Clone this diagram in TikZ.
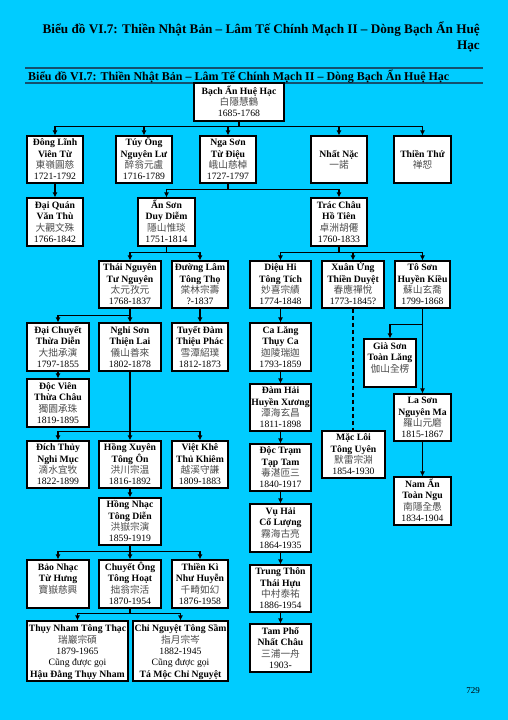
\documentclass[tikz,border=0pt]{standalone}
\usepackage{fontspec}
\setmainfont{Liberation Serif}
\newfontfamily\cjk{Noto Sans CJK TC}
\usetikzlibrary{arrows.meta}
\definecolor{bgc}{RGB}{0,204,255}
\definecolor{rulec}{RGB}{20,80,110}
\newcommand\tp{\rule{0pt}{9.6pt}}
\newcommand\bt{\rule[-2.8pt]{0pt}{2.8pt}}
\newcommand\bx[7][]{\node[box,#1,minimum width={#5-#3},minimum height={#6-#4}] (#2) at ({(#3+#5)/2},{(#4+#6)/2}) {#7};}
\newcommand\cj[1]{{\cjk\color{black!70}#1}}
\newcommand\nm[4]{\tp\textbf{#1}\\\textbf{#2}\\\cj{#3}\\#4\bt}
\begin{document}
\begin{tikzpicture}[x=1pt,y=-1pt,
  box/.style={draw=black, line width=1.1pt, fill=white, inner sep=0pt, align=center, font=\fontsize{9.7}{11.3}\selectfont},
  arr/.style={line width=1.3pt, -{Latex[length=5pt,width=5pt]}},
  dashline/.style={line width=1.1pt, dash pattern=on 4pt off 3pt},
  rule/.style={rulec, line width=1.5pt}
]
\fill[bgc] (0,0) rectangle (508,720);
\useasboundingbox (0,0) rectangle (508,720);

\node[anchor=base east, inner sep=0, font=\bfseries\fontsize{13.2}{16}\selectfont] (title1) at (480,33) {Biểu đồ VI.7: Thiền Nhật Bản – Lâm Tế Chính Mạch II – Dòng Bạch Ẩn Huệ};
\node[anchor=base east, inner sep=0, font=\bfseries\fontsize{13.2}{16}\selectfont] (title2) at (480,49) {Hạc};
\draw[rule] (25,68) -- (483,68);
\draw[rule] (25,83) -- (483,83);
\node[anchor=base west, inner sep=0, font=\bfseries\fontsize{12}{13}\selectfont] (subtitle) at (28,80) {Biểu đồ VI.7: Thiền Nhật Bản – Lâm Tế Chính Mạch II – Dòng Bạch Ẩn Huệ Hạc};

% root
\bx{root}{194}{83}{284}{121}{\tp\textbf{Bạch Ẩn Huệ Hạc}\\\cj{白隱慧鶴}\\1685-1768\bt}
% row 1
\bx{dongl}{27}{136}{83}{183}{\nm{Đông Lĩnh}{Viên Từ}{東嶺圓慈}{1721-1792}}
\bx{tuyong}{116}{136}{172}{183}{\nm{Túy Ông}{Nguyên Lư}{醉翁元盧}{1716-1789}}
\bx{ngason}{200}{136}{256}{183}{\nm{Nga Sơn}{Từ Điệu}{峨山慈棹}{1727-1797}}
\bx{nhatnac}{311}{136}{367}{183}{\tp\textbf{Nhất Nặc}\\\cj{一諾}\bt}
\bx{thientu}{394}{136}{451}{183}{\tp\textbf{Thiền Thứ}\\\cj{禅恕}\bt}
% row 2
\bx{daiquan}{27}{198}{83}{246}{\nm{Đại Quán}{Văn Thù}{大觀文殊}{1766-1842}}
\bx{anson}{138}{198}{195}{246}{\nm{Ẩn Sơn}{Duy Diễm}{隱山惟琰}{1751-1814}}
\bx{tracchau}{311}{198}{367}{246}{\nm{Trác Châu}{Hồ Tiên}{卓洲胡僊}{1760-1833}}
% row 3
\bx{thainguyen}{99}{261}{161}{308}{\nm{Thái Nguyên}{Tư Nguyên}{太元孜元}{1768-1837}}
\bx{duonglam}{172}{261}{228}{308}{\nm{Đường Lâm}{Tông Thọ}{棠林宗壽}{?-1837}}
\bx{dieuhi}{250}{261}{311}{308}{\nm{Diệu Hi}{Tông Tích}{妙喜宗績}{1774-1848}}
\bx{xuanung}{322}{261}{384}{308}{\nm{Xuân Ứng}{Thiền Duyệt}{春應禪悅}{1773-1845?}}
\bx{toson}{395}{261}{450}{308}{\nm{Tô Sơn}{Huyền Kiều}{蘇山玄喬}{1799-1868}}
% row 4
\bx{daichuyet}{27}{323}{89}{371}{\nm{Đại Chuyết}{Thừa Diễn}{大拙承演}{1797-1855}}
\bx{nghison}{99}{323}{161}{371}{\nm{Nghi Sơn}{Thiện Lai}{儀山善來}{1802-1878}}
\bx{tuyetdam}{172}{323}{228}{371}{\nm{Tuyết Đàm}{Thiệu Phác}{雪潭紹璞}{1812-1873}}
\bx{calang}{250}{323}{311}{371}{\nm{Ca Lăng}{Thụy Ca}{迦陵瑞迦}{1793-1859}}
\bx{giason}{364}{339}{416}{387}{\nm{Già Sơn}{Toàn Lăng}{伽山全楞}{}}
% further
\bx{docvien}{27}{379}{89}{427}{\nm{Độc Viên}{Thừa Châu}{獨園承珠}{1819-1895}}
\bx{damhai}{250}{384}{311}{431}{\nm{Đàm Hải}{Huyền Xương}{潭海玄昌}{1811-1898}}
\bx{lason}{394}{394}{451}{441}{\nm{La Sơn}{Nguyên Ma}{羅山元磨}{1815-1867}}
\bx[line width=2.2pt]{macloi}{322}{431}{385}{478}{\nm{Mặc Lôi}{Tông Uyên}{默雷宗淵}{1854-1930}}
\bx{dichthuy}{27}{441}{89}{488}{\nm{Đích Thủy}{Nghi Mục}{滴水宜牧}{1822-1899}}
\bx{hongxuyen}{99}{441}{161}{488}{\nm{Hồng Xuyên}{Tông Ôn}{洪川宗温}{1816-1892}}
\bx{vietkhe}{172}{441}{228}{488}{\nm{Việt Khê}{Thủ Khiêm}{越溪守謙}{1809-1883}}
\bx{doctram}{250}{444}{311}{491}{\nm{Độc Trạm}{Tạp Tam}{毒湛匝三}{1840-1917}}
\bx{naman}{394}{477}{451}{525}{\nm{Nam Ẩn}{Toàn Ngu}{南隱全愚}{1834-1904}}
\bx{hongnhac}{99}{498}{161}{545}{\nm{Hồng Nhạc}{Tông Diễn}{洪嶽宗演}{1859-1919}}
\bx{vuhai}{250}{504}{311}{552}{\nm{Vụ Hải}{Cổ Lượng}{霧海古亮}{1864-1935}}
\bx{baonhac}{27}{560}{89}{608}{\nm{Bảo Nhạc}{Từ Hưng}{寶嶽慈興}{}}
\bx{chuyetong}{99}{560}{161}{608}{\nm{Chuyết Ông}{Tông Hoạt}{拙翁宗活}{1870-1954}}
\bx{thienki}{172}{560}{228}{608}{\nm{Thiền Kì}{Như Huyễn}{千畸如幻}{1876-1958}}
\bx{trungthon}{250}{565}{311}{612}{\nm{Trung Thôn}{Thái Hựu}{中村泰祐}{1886-1954}}
\bx{thuynham}{27}{621}{128}{681}{\tp\textbf{Thụy Nham Tông Thạc}\\\cj{瑞巖宗碩}\\1879-1965\\Cũng được gọi\\\textbf{Hậu Đằng Thụy Nham}\bt}
\bx{chinguyet}{133}{621}{228}{681}{\tp\textbf{Chỉ Nguyệt Tông Sầm}\\\cj{指月宗岑}\\1882-1945\\Cũng được gọi\\\textbf{Tá Mộc Chỉ Nguyệt}\bt}
\bx{tampho}{250}{624}{311}{672}{\nm{Tam Phố}{Nhất Châu}{三浦一舟}{1903-}}

\node[font=\fontsize{9}{10}\selectfont, inner sep=0] (pagenum) at (473,691) {729};

% connectors
\foreach \c in {dongl,tuyong,ngason,nhatnac,thientu}
  \draw[arr] (root.south) -- ++(0,5) -| (\c.north);
\draw[arr] (dongl.south) -- (daiquan.north);
\foreach \c in {anson,tracchau}
  \draw[arr] (ngason.south) -- ++(0,6) -| (\c.north);
\foreach \c in {thainguyen,duonglam}
  \draw[arr] (anson.south) -- ++(0,6) -| (\c.north);
\foreach \c in {dieuhi,xuanung,toson}
  \draw[arr] (tracchau.south) -- ++(0,6) -| (\c.north);
\foreach \c in {daichuyet,nghison}
  \draw[arr] (thainguyen.south) -- ++(0,7) -| (\c.north);
\draw[arr] (duonglam.south) -- (tuyetdam.north);
\draw[arr] (dieuhi.south) -- (calang.north);
\draw[arr] (calang.south) -- (damhai.north);
\draw[arr] (damhai.south) -- (doctram.north);
\draw[arr] (doctram.south) -- (vuhai.north);
\draw[arr] (vuhai.south) -- (trungthon.north);
\draw[arr] (trungthon.south) -- (tampho.north);
\draw[dashline] (xuanung.south) -- (xuanung.south |- macloi.north);
\draw[arr] (toson.south) -- (lason.north);
\draw[arr] (toson.south) -- ++(0,16) -| (giason.north);
\draw[arr] (lason.south) -- (naman.north);
\draw[arr] (daichuyet.south) -- (docvien.north);
\foreach \c in {dichthuy,hongxuyen,vietkhe}
  \draw[arr] (nghison.south) -- ++(0,60) -| (\c.north);
\draw[arr] (hongxuyen.south) -- (hongnhac.north);
\foreach \c in {baonhac,chuyetong,thienki}
  \draw[arr] (hongnhac.south) -- ++(0,6) -| (\c.north);
\foreach \c in {thuynham,chinguyet}
  \draw[arr] (chuyetong.south) -- ++(0,5) -| (\c.north);
\end{tikzpicture}
\end{document}
